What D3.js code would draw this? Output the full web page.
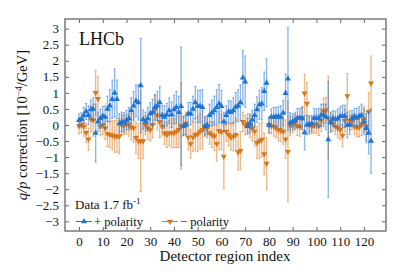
<!DOCTYPE html>
<html>
<head>
<meta charset="utf-8">
<script src="https://cdn.jsdelivr.net/npm/d3@7"></script>
<style>
  body { margin: 0; background: #fff; }
  svg text { font-family: "Liberation Serif", "DejaVu Serif", serif; fill: #111; }
</style>
</head>
<body>
<div id="chart"></div>
<script>
'use strict';

// detector region index 0..123, q/p correction in 1e-4/GeV
var plusValues = [
  0.15, 0.18, 0.30, 0.42, 0.30, 0.48, 0.50, -0.25, 0.10, 0.20,
  0.28, 0.25, 0.50, 0.60, 0.80, 1.00, 0.80, 0.05, 0.10, 0.08,
  0.15, 0.20, 0.45, 0.60, 0.75, 0.70, 1.23, 0.17, 0.10, 0.20,
  0.35, 0.40, 0.55, 0.60, 0.70, 0.30, 0.25, 0.32, 0.45, 0.32,
  0.48, 0.55, 0.40, 0.58, -0.04, 0.00, 0.35, 0.35, 0.50, 0.70,
  0.58, 0.58, 0.55, -0.04, 0.00, 0.30, 0.38, 0.45, 0.55, 0.66,
  0.58, 0.10, 0.30, 0.42, 0.40, 0.45, 0.56, 0.60, 0.70, 1.47,
  1.35, -0.04, 0.05, 0.16, 0.30, 0.48, 0.63, 0.66, 1.05, 1.31,
  0.00, 0.25, 0.25, 0.25, 0.27, 0.25, 0.37, 0.99, 1.44, 0.08,
  0.10, 0.15, 0.22, 0.22, 0.20, -0.23, 0.00, 0.02, 0.05, 0.22,
  0.20, 0.22, 0.30, 0.30, 0.25, -0.45, 0.07, 0.20, 0.18, 0.20,
  0.27, 0.27, 0.27, 0.00, 0.00, 0.20, 0.27, 0.22, 0.27, 0.30,
  0.10, -0.10, -0.25, -0.50
];
var plusErrors = [
  0.20, 0.20, 0.25, 0.25, 0.30, 0.30, 0.35, 0.90, 0.30, 0.30,
  0.30, 0.35, 0.40, 0.50, 0.60, 0.75, 0.60, 0.30, 0.30, 0.30,
  0.30, 0.35, 0.40, 0.45, 0.50, 0.55, 1.47, 0.30, 0.30, 0.35,
  0.35, 0.40, 0.40, 0.45, 0.50, 0.30, 0.35, 0.35, 0.40, 0.40,
  0.45, 0.50, 0.50, 1.85, 0.30, 0.30, 0.35, 0.35, 0.40, 0.50,
  0.50, 0.50, 0.55, 0.30, 0.30, 0.35, 0.40, 0.45, 0.55, 0.60,
  0.50, 0.30, 0.30, 0.35, 0.35, 0.40, 0.45, 0.50, 0.55, 0.85,
  0.80, 0.25, 0.30, 0.30, 0.35, 0.40, 0.45, 0.50, 0.60, 0.75,
  0.25, 0.25, 0.30, 0.30, 0.30, 0.35, 0.40, 0.60, 1.60, 0.30,
  0.25, 0.25, 0.30, 0.30, 0.35, 0.55, 0.30, 0.25, 0.25, 0.30,
  0.30, 0.30, 0.35, 0.35, 0.40, 1.80, 0.30, 0.25, 0.25, 0.30,
  0.30, 0.35, 0.35, 0.40, 0.30, 0.25, 0.25, 0.30, 0.30, 0.35,
  0.40, 0.45, 0.65, 1.00
];
var minusValues = [
  -0.03, 0.00, -0.05, -0.24, -0.44, 0.18, 0.15, 1.00, 0.82, -0.04,
  0.00, -0.10, -0.27, -0.30, -0.32, -0.35, -0.35, -0.35, 0.00, 0.00,
  0.02, 0.00, -0.06, -0.09, -0.40, -0.50, -0.50, -0.50, 0.00, -0.10,
  -0.15, 0.00, 0.48, 0.30, 0.10, -0.05, -0.25, -0.30, -0.25, -0.25,
  -0.25, -0.20, -0.15, -0.03, -0.02, 0.05, -0.38, -0.58, -0.38, -0.30,
  -0.28, -0.20, -0.15, -0.05, -0.10, -0.25, -0.30, -0.35, -0.58, -0.18,
  -0.22, -0.98, -0.20, -0.30, -0.38, -0.36, -0.30, -0.85, -0.80, 0.10,
  0.00, 0.05, -0.05, -0.10, -0.20, -0.55, -0.50, -0.45, -0.90, -1.20,
  0.00, -0.03, -0.05, -0.10, -0.15, -0.17, -0.20, -0.44, -0.83, -0.02,
  0.00, 0.08, -0.03, -0.05, 0.22, 0.99, 0.67, 0.00, -0.03, 0.00,
  0.03, -0.03, 0.15, 0.43, 0.46, 0.22, 0.11, 0.05, -0.05, -0.10,
  -0.15, -0.33, 0.14, 0.90, 0.14, 0.10, -0.05, -0.07, -0.07, 0.02,
  0.18, -0.03, 0.42, 1.30
];
var minusErrors = [
  0.25, 0.25, 0.30, 0.30, 0.35, 0.40, 0.50, 0.70, 0.70, 0.30,
  0.30, 0.35, 0.40, 0.40, 0.45, 0.50, 0.50, 0.55, 0.30, 0.30,
  0.30, 0.35, 0.40, 0.45, 0.50, 0.55, 1.57, 0.55, 0.30, 0.35,
  0.35, 0.40, 0.45, 0.45, 0.50, 0.30, 0.35, 0.40, 0.40, 0.45,
  0.45, 0.50, 0.55, 1.35, 0.30, 0.35, 0.40, 0.45, 0.45, 0.50,
  0.55, 0.55, 0.60, 0.30, 0.30, 0.35, 0.40, 0.45, 0.55, 0.60,
  0.55, 1.00, 0.30, 0.35, 0.40, 0.45, 0.50, 0.55, 0.60, 0.30,
  0.30, 0.30, 0.35, 0.40, 0.45, 0.50, 0.55, 0.55, 0.65, 0.80,
  0.25, 0.25, 0.30, 0.30, 0.35, 0.35, 0.40, 0.60, 1.57, 0.30,
  0.25, 0.25, 0.30, 0.30, 0.35, 0.60, 0.65, 0.30, 0.25, 0.25,
  0.30, 0.30, 0.35, 0.40, 0.40, 1.30, 0.30, 0.25, 0.25, 0.30,
  0.30, 0.35, 0.35, 0.70, 0.30, 0.25, 0.25, 0.30, 0.30, 0.35,
  0.40, 0.45, 0.60, 0.85
];
var xTicks = [0, 10, 20, 30, 40, 50, 60, 70, 80, 90, 100, 110, 120];
var yTicks = [-3, -2.5, -2, -1.5, -1, -0.5, 0, 0.5, 1, 1.5, 2, 2.5, 3];

var width = 407,
  height = 276,
  margin = { left: 65, right: 21, top: 19, bottom: 45 },
  blue = '#1f74d6',
  orange = '#d9781c';

var svg = d3.select('#chart')
  .append('svg')
  .attr('width', width)
  .attr('height', height);

var x = d3.scaleLinear()
  .domain([ -5.9, 129.3 ])
  .range([ margin.left, width - margin.right ]);

var y = d3.scaleLinear()
  .domain([ -3.3, 3.3 ])
  .range([ height - margin.bottom, margin.top ]);

var fmt = d3.format('');

// axes, ticks pointing inward
svg.append('g')
  .attr('transform', 'translate(0,' + y.range()[0] + ')')
  .call(d3.axisBottom(x).tickValues(xTicks).tickSize(-4).tickPadding(6));
svg.append('g')
  .attr('transform', 'translate(0,' + y.range()[1] + ')')
  .call(d3.axisTop(x).tickValues(xTicks).tickSize(-4).tickFormat(''));
svg.append('g')
  .attr('transform', 'translate(' + x.range()[0] + ',0)')
  .call(d3.axisLeft(y).tickValues(yTicks).tickSize(-4).tickPadding(6).tickFormat(fmt));
svg.append('g')
  .attr('transform', 'translate(' + x.range()[1] + ',0)')
  .call(d3.axisRight(y).tickValues(yTicks).tickSize(-4).tickFormat(''));

svg.selectAll('.domain').remove();
svg.selectAll('.tick line').attr('stroke', '#666').attr('stroke-width', 1);
svg.selectAll('.tick text')
  .attr('font-size', 13)
  .attr('font-family', '"Liberation Serif", serif')
  .attr('fill', '#111');

svg.append('rect')
  .attr('x', x.range()[0])
  .attr('y', y.range()[1])
  .attr('width', x.range()[1] - x.range()[0])
  .attr('height', y.range()[0] - y.range()[1])
  .attr('fill', 'none')
  .attr('stroke', '#7a7a7a')
  .attr('stroke-width', 1.5);

function series( values, errors, color, down ) {
  var data = values.map(function( v, i ) {
    return { i: i, v: v, e: errors[i] };
  });
  var g = svg.append('g');

  g.selectAll('line.bar')
    .data(data)
    .enter().append('line')
    .attr('class', 'bar')
    .attr('x1', function( d ) { return x(d.i); })
    .attr('x2', function( d ) { return x(d.i); })
    .attr('y1', function( d ) { return y(d.v - d.e); })
    .attr('y2', function( d ) { return y(d.v + d.e); })
    .attr('stroke', color)
    .attr('stroke-opacity', 0.5)
    .attr('stroke-width', 1.4);

  [ -1, 1 ].forEach(function( s ) {
    g.selectAll('line.cap' + (s + 1))
      .data(data)
      .enter().append('line')
      .attr('class', 'cap' + (s + 1))
      .attr('x1', function( d ) { return x(d.i) - 1.2; })
      .attr('x2', function( d ) { return x(d.i) + 1.2; })
      .attr('y1', function( d ) { return y(d.v + s * d.e); })
      .attr('y2', function( d ) { return y(d.v + s * d.e); })
      .attr('stroke', color)
      .attr('stroke-opacity', 0.5)
      .attr('stroke-width', 1);
  });

  g.selectAll('path.marker')
    .data(data)
    .enter().append('path')
    .attr('class', 'marker')
    .attr('d', d3.symbol().type(d3.symbolTriangle).size(16))
    .attr('transform', function( d ) {
      return 'translate(' + x(d.i) + ',' + y(d.v) + ')' + (down ? ' rotate(180)' : '');
    })
    .attr('fill', color);
}

series(minusValues, minusErrors, orange, true);
series(plusValues, plusErrors, blue, false);

// labels
svg.append('text')
  .attr('x', 79)
  .attr('y', 45)
  .attr('font-size', 18)
  .text('LHCb');

var dataLabel = svg.append('text')
  .attr('x', 75)
  .attr('y', 209)
  .attr('font-size', 13);
dataLabel.append('tspan').text('Data 1.7 fb');
dataLabel.append('tspan')
  .attr('font-size', 9)
  .attr('dy', -5)
  .text('-1');

function legendItem( x0, color, down, label ) {
  var ly = 221.5;
  svg.append('line')
    .attr('x1', x0)
    .attr('x2', x0 + 16)
    .attr('y1', ly)
    .attr('y2', ly)
    .attr('stroke', color)
    .attr('stroke-width', 1);
  svg.append('path')
    .attr('d', d3.symbol().type(d3.symbolTriangle).size(16))
    .attr('transform', 'translate(' + (x0 + 8) + ',' + ly + ')' + (down ? ' rotate(180)' : ''))
    .attr('fill', color);
  svg.append('text')
    .attr('x', x0 + 18)
    .attr('y', ly + 4)
    .attr('font-size', 12.5)
    .text(label);
}
legendItem(76, blue, false, '+ polarity');
legendItem(162, orange, true, '\u2212 polarity');

svg.append('text')
  .attr('x', 225)
  .attr('y', 261)
  .attr('text-anchor', 'middle')
  .attr('font-size', 15)
  .text('Detector region index');

var yLabel = svg.append('text')
  .attr('transform', 'translate(27,125) rotate(-90)')
  .attr('text-anchor', 'middle')
  .attr('font-size', 14.5);
yLabel.append('tspan').attr('font-style', 'italic').text('q/p');
yLabel.append('tspan').text(' correction [10');
yLabel.append('tspan').attr('font-size', 9.5).attr('dy', -5).text('\u22124');
yLabel.append('tspan').attr('dy', 5).text('/GeV]');
</script>
</body>
</html>
